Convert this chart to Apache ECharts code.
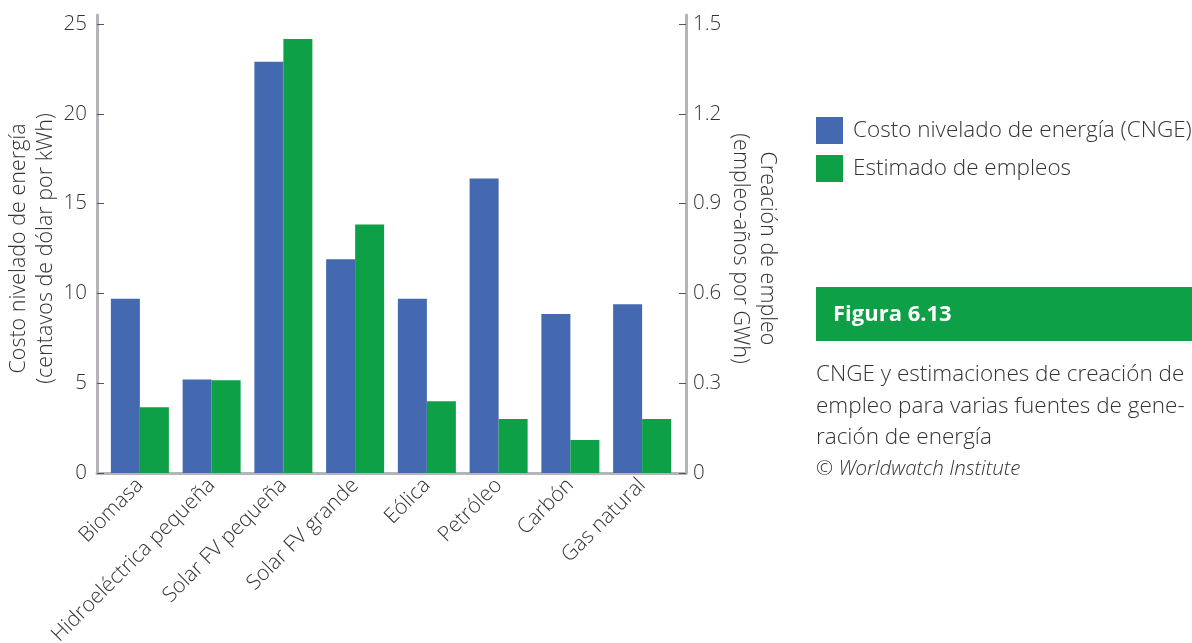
<!DOCTYPE html>
<html>
<head>
<meta charset="utf-8">
<script src="https://cdn.jsdelivr.net/npm/echarts@6/dist/echarts.min.js"></script>
<style>
  html, body { margin: 0; padding: 0; background: #fff; }
  #chart { width: 1192px; height: 643px; }
</style>
</head>
<body>
<div id="chart"></div>
<script>
// Energy sources on the category axis
const categories = ['Biomasa', 'Hidroeléctrica pequeña', 'Solar FV pequeña', 'Solar FV grande', 'Eólica', 'Petróleo', 'Carbón', 'Gas natural'];
// Levelized cost of energy, US cents per kWh (left axis)
const costoNivelado = [9.7, 5.2, 22.9, 11.9, 9.7, 16.4, 8.85, 9.4];
// Job creation, job-years per GWh (right axis)
const estimadoEmpleos = [0.22, 0.31, 1.45, 0.83, 0.24, 0.18, 0.11, 0.18];

const seriesNames = ['Costo nivelado de energía (CNGE)', 'Estimado de empleos'];
const leftAxisName = 'Costo nivelado de energía\n(centavos de dólar por kWh)';
const rightAxisName = 'Creación de empleo\n(empleo-años por GWh)';
const figureTitle = 'Figura 6.13';
const captionLines = ['CNGE y estimaciones de creación de', 'empleo para varias fuentes de gene-', 'ración de energía'];
const creditLine = '© Worldwatch Institute';

const FONT = '"Open Sans", "Noto Sans", sans-serif';
const WEIGHT = 300;
const TEXT = '#333333';
const AXIS_GRAY = '#b4b4b9';
const BLUE = '#4469b1';
const GREEN = '#0da046';

const chart = echarts.init(document.getElementById('chart'), null, { renderer: 'canvas' });

const hiddenParts = {
  axisTick: { show: false },
  axisLabel: { show: false },
  splitLine: { show: false }
};

const nameStyle = { fontFamily: FONT, fontWeight: WEIGHT, fontSize: 21.5, color: TEXT, lineHeight: 27 };
const tickStyle = { show: true, inside: true, length: 7, lineStyle: { color: '#555', width: 1 } };

chart.setOption({
  animation: false,
  textStyle: { fontFamily: FONT },
  grid: [
    // plotting area; the long rotated labels are allowed to run past the bottom edge
    { left: 104, right: 514, top: 24, bottom: 170, outerBoundsMode: 'none', containLabel: false },
    // frame carrying the grey axis lines
    { left: 97, right: 506, top: 15, bottom: 170, outerBoundsMode: 'none', containLabel: false }
  ],
  legend: {
    orient: 'vertical',
    left: 816,
    top: 117,
    padding: 0,
    itemWidth: 27,
    itemHeight: 27,
    itemGap: 11,
    icon: 'rect',
    selectedMode: false,
    textStyle: { fontFamily: FONT, fontWeight: WEIGHT, fontSize: 22.5, color: TEXT, padding: [0, 0, 0, 5] },
    data: seriesNames
  },
  xAxis: [
    {
      type: 'category',
      gridIndex: 0,
      data: categories,
      boundaryGap: true,
      axisLine: { show: false },
      axisTick: { show: false },
      axisLabel: {
        rotate: 45,
        margin: 9,
        interval: 0,
        fontFamily: FONT,
        fontWeight: WEIGHT,
        fontSize: 21,
        color: TEXT
      }
    },
    Object.assign({
      type: 'value',
      gridIndex: 1,
      min: 0,
      max: 1,
      axisLine: { show: true, onZero: false, lineStyle: { color: AXIS_GRAY, width: 3 } }
    }, hiddenParts)
  ],
  yAxis: [
    {
      type: 'value',
      gridIndex: 0,
      position: 'left',
      offset: 7,
      min: 0,
      max: 25,
      interval: 5,
      name: leftAxisName,
      nameLocation: 'middle',
      nameRotate: 90,
      nameGap: 38,
      nameTextStyle: nameStyle,
      axisLine: { show: false },
      axisTick: tickStyle,
      axisLabel: { margin: 10, fontFamily: FONT, fontWeight: WEIGHT, fontSize: 20.5, color: TEXT },
      splitLine: { show: false }
    },
    {
      type: 'value',
      gridIndex: 0,
      position: 'right',
      offset: 8,
      min: 0,
      max: 1.5,
      interval: 0.3,
      name: rightAxisName,
      nameLocation: 'middle',
      nameRotate: -90,
      nameGap: 41,
      nameTextStyle: nameStyle,
      axisLine: { show: false },
      axisTick: tickStyle,
      axisLabel: { margin: 7, fontFamily: FONT, fontWeight: WEIGHT, fontSize: 20.5, color: TEXT },
      splitLine: { show: false }
    },
    Object.assign({
      type: 'value',
      gridIndex: 1,
      position: 'left',
      min: 0,
      max: 1,
      axisLine: { show: true, onZero: false, lineStyle: { color: AXIS_GRAY, width: 3 } }
    }, hiddenParts),
    Object.assign({
      type: 'value',
      gridIndex: 1,
      position: 'right',
      min: 0,
      max: 1,
      axisLine: { show: true, onZero: false, lineStyle: { color: AXIS_GRAY, width: 3 } }
    }, hiddenParts)
  ],
  series: [
    {
      name: seriesNames[0],
      type: 'bar',
      xAxisIndex: 0,
      yAxisIndex: 0,
      data: costoNivelado,
      barWidth: 29,
      barGap: '0%',
      itemStyle: { color: BLUE }
    },
    {
      name: seriesNames[1],
      type: 'bar',
      xAxisIndex: 0,
      yAxisIndex: 1,
      data: estimadoEmpleos,
      barWidth: 29,
      barGap: '0%',
      itemStyle: { color: GREEN }
    }
  ],
  graphic: [
    {
      type: 'rect',
      left: 816,
      top: 287,
      shape: { width: 376, height: 54 },
      style: { fill: GREEN }
    },
    {
      type: 'text',
      x: 833,
      y: 315,
      style: {
        text: figureTitle,
        fill: '#ffffff',
        font: 'bold 22px ' + FONT,
        verticalAlign: 'middle'
      }
    },
    {
      type: 'text',
      x: 816,
      y: 359,
      style: {
        text: captionLines.join('\n'),
        fill: TEXT,
        font: WEIGHT + ' 22.5px ' + FONT,
        lineHeight: 31.5
      }
    },
    {
      type: 'text',
      x: 816,
      y: 469,
      style: {
        text: creditLine,
        fill: TEXT,
        font: 'italic ' + WEIGHT + ' 20.5px ' + FONT,
        verticalAlign: 'middle'
      }
    }
  ]
});
</script>
</body>
</html>
